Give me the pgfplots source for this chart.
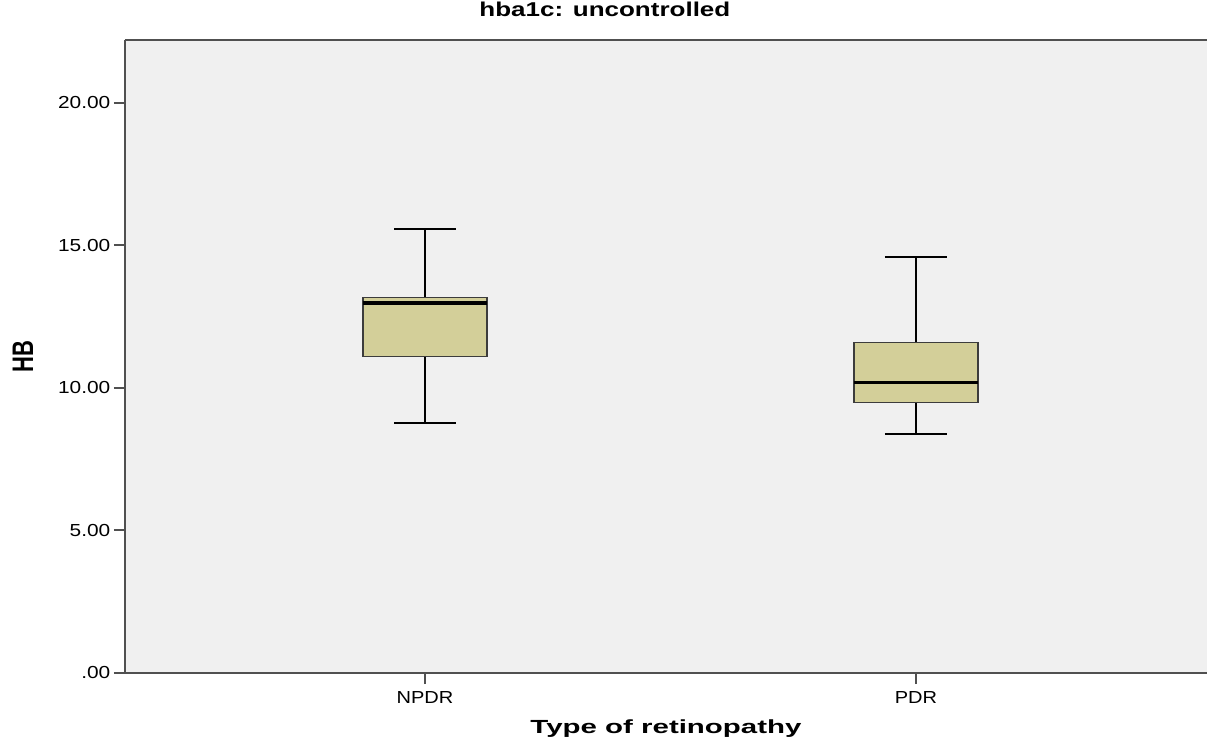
\documentclass[border=0pt]{standalone}
\usepackage{fontspec}
\setmainfont{Liberation Sans}
\usepackage{pgfplots}
\pgfplotsset{compat=1.18}
\definecolor{bgcolor}{HTML}{F0F0F0}
\definecolor{boxfill}{HTML}{D3CF99}
\definecolor{boxedge}{HTML}{3C3C3C}
\definecolor{axcol}{HTML}{505050}
\begin{document}
\begin{tikzpicture}
\begin{axis}[
  scale only axis,
  width=541pt, height=316.5pt,
  xmin=0.389, xmax=2.593,
  ymin=0, ymax=22.2,
  axis x line=bottom, axis y line=left,
  axis line style={-, axcol, line width=1.3pt},
  axis background/.style={fill=bgcolor},
  xtick={1,2}, xticklabels={NPDR,PDR},
  ytick={0,5,10,15,20}, yticklabels={.00,5.00,10.00,15.00,20.00},
  tick align=outside,
  major tick length=5.5pt,
  tick style={axcol, line width=1pt},
  minor tick num=0,
  xticklabel style={font=\fontsize{8.7}{10}\selectfont, xscale=1.15},
  yticklabel style={font=\fontsize{8.7}{10}\selectfont, xscale=1.2, xshift=2pt},
  title={hba1c: uncontrolled},
  title style={font=\bfseries\fontsize{10}{12}\selectfont, xscale=1.3, at={(0.5,1)}, anchor=base, yshift=5.5pt, xshift=-23.5pt},
  xlabel={Type of retinopathy},
  xlabel style={font=\bfseries\fontsize{9.5}{11}\selectfont, xscale=1.55, at={(0.5,0)}, anchor=base, yshift=-30.5pt},
  ylabel={HB},
  ylabel style={font=\bfseries\fontsize{11}{13}\selectfont, yscale=1.35, at={(-0.0943,0.5)}, anchor=center},
  unbounded coords=jump,
]
% whiskers (stem + caps): NPDR
\addplot[black, line width=1.1pt] coordinates {(1,13.17) (1,15.58) (nan,nan) (0.937,15.58) (1.063,15.58) (nan,nan) (1,11.1) (1,8.78) (nan,nan) (0.937,8.78) (1.063,8.78)};
% whiskers: PDR
\addplot[black, line width=1.1pt] coordinates {(2,11.59) (2,14.6) (nan,nan) (1.937,14.6) (2.063,14.6) (nan,nan) (2,9.49) (2,8.39) (nan,nan) (1.937,8.39) (2.063,8.39)};
% boxes (Q1 to Q3)
\addplot[draw=boxedge, line width=0.8pt, fill=boxfill] coordinates {(0.8738,11.1) (1.1262,11.1) (1.1262,13.17) (0.8738,13.17)} -- cycle;
\addplot[draw=boxedge, line width=0.8pt, fill=boxfill] coordinates {(1.8738,9.49) (2.1262,9.49) (2.1262,11.59) (1.8738,11.59)} -- cycle;
% medians
\addplot[black, line width=1.7pt] coordinates {(0.8738,12.98) (1.1262,12.98)};
\addplot[black, line width=1.7pt] coordinates {(1.8738,10.19) (2.1262,10.19)};
\draw[axcol, line width=1.3pt] (rel axis cs:0,1) -- (rel axis cs:1,1);
\coordinate (BL) at (rel axis cs:0,0);
\coordinate (TR) at (rel axis cs:1,1);
\end{axis}
\pgfresetboundingbox
\path ([xshift=-62.5pt,yshift=-36pt]BL) rectangle ([yshift=20pt]TR);
\end{tikzpicture}
\end{document}
